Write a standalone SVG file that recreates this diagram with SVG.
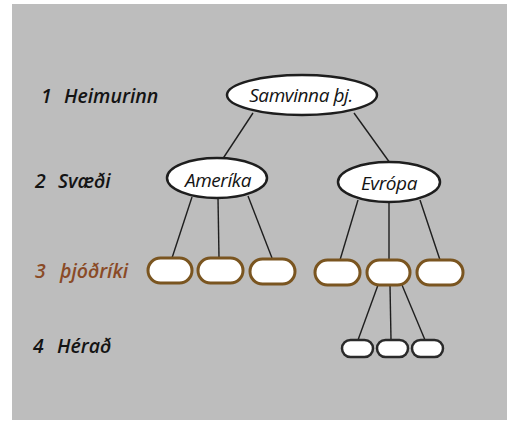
<svg xmlns="http://www.w3.org/2000/svg" width="507" height="425" viewBox="0 0 507 425">
<defs>
<style>
.bg{fill:#bdbdbd}
.lbl{font-family:"Open Sans","Noto Sans",sans-serif;font-style:italic;font-weight:600;font-size:19.5px;fill:#141414}
.lbl3{fill:#8a4a26}
.node{fill:#ffffff;stroke:#1e1e1e;stroke-width:2.5}
.leaf{fill:#ffffff;stroke:#7a5520;stroke-width:3}
.small{fill:#ffffff;stroke:#2a2a2a;stroke-width:2.5}
.ntxt{font-family:"Open Sans","Noto Sans",sans-serif;font-style:italic;font-size:19px;letter-spacing:-0.4px;fill:#141414;text-anchor:middle}
.conn line{stroke:#1e1e1e;stroke-width:1.4}
</style>
</defs>
<rect class="bg" x="12" y="4" width="495" height="416"/>
<g id="labels">
<text class="lbl" y="103"><tspan x="41">1</tspan><tspan x="64">Heimurinn</tspan></text>
<text class="lbl" y="188"><tspan x="35">2</tspan><tspan x="58">Svæði</tspan></text>
<text class="lbl lbl3" y="278"><tspan x="35">3</tspan><tspan x="60">þjóðríki</tspan></text>
<text class="lbl" y="353"><tspan x="33">4</tspan><tspan x="57">Hérað</tspan></text>
</g>
<g id="connectors" class="conn">
<line x1="253" y1="113" x2="222" y2="160"/>
<line x1="354" y1="113" x2="390" y2="163"/>
<line x1="192" y1="197" x2="172" y2="258"/>
<line x1="218" y1="198" x2="219" y2="258"/>
<line x1="248" y1="196" x2="272" y2="258"/>
<line x1="358" y1="200" x2="340" y2="260"/>
<line x1="389" y1="202" x2="389" y2="260"/>
<line x1="420" y1="200" x2="440" y2="260"/>
<line x1="378" y1="285" x2="358" y2="340"/>
<line x1="390" y1="285" x2="391" y2="340"/>
<line x1="402" y1="285" x2="425" y2="340"/>
</g>
<g id="n-samvinna"><ellipse class="node" cx="302" cy="95" rx="75" ry="20"/><text class="ntxt" x="301" y="102">Samvinna þj.</text></g>
<g id="n-amerika"><ellipse class="node" cx="217" cy="178" rx="50" ry="20"/><text class="ntxt" x="218" y="187">Ameríka</text></g>
<g id="n-evropa"><ellipse class="node" cx="389" cy="182" rx="51" ry="20"/><text class="ntxt" x="389" y="190">Evrópa</text></g>
<g id="n-l3-1"><rect class="leaf" x="148" y="258" width="44" height="25" rx="12.5"/></g>
<g id="n-l3-2"><rect class="leaf" x="198" y="258" width="45" height="25" rx="12.5"/></g>
<g id="n-l3-3"><rect class="leaf" x="250" y="259" width="45" height="25" rx="12.5"/></g>
<g id="n-l3-4"><rect class="leaf" x="315" y="260" width="45" height="25" rx="12.5"/></g>
<g id="n-l3-5"><rect class="leaf" x="367" y="260" width="43" height="25" rx="12.5"/></g>
<g id="n-l3-6"><rect class="leaf" x="417" y="260" width="46" height="25" rx="12.5"/></g>
<g id="n-l4-1"><rect class="small" x="342" y="340" width="31" height="17" rx="8.5"/></g>
<g id="n-l4-2"><rect class="small" x="377" y="340" width="31" height="17" rx="8.5"/></g>
<g id="n-l4-3"><rect class="small" x="412" y="340" width="31" height="17" rx="8.5"/></g>
</svg>
